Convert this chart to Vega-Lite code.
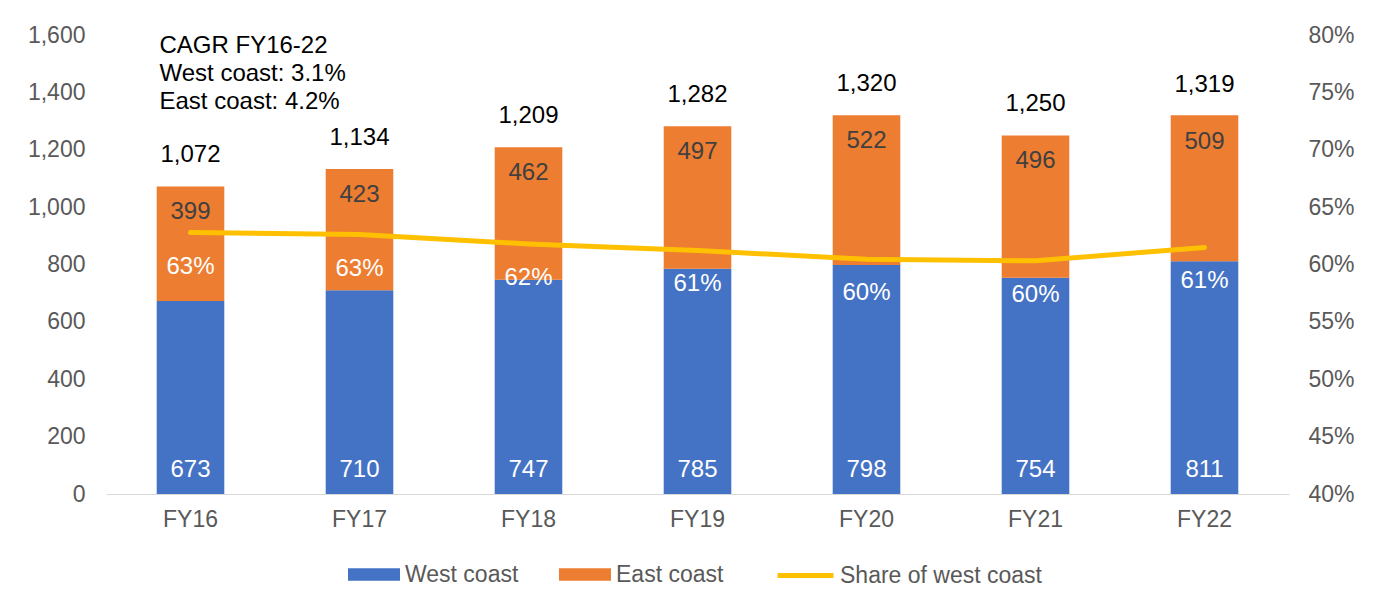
{
  "$schema": "https://vega.github.io/schema/vega-lite/v6.json",
  "width": 1183,
  "height": 459,
  "autosize": {"type": "none"},
  "padding": {"left": 106, "top": 35, "right": 94, "bottom": 116},
  "background": "white",
  "config": {
    "view": {"stroke": null},
    "font": "Liberation Sans",
    "text": {"font": "Liberation Sans"},
    "axis": {"labelFont": "Liberation Sans"},
    "legend": {"labelFont": "Liberation Sans"}
  },
  "datasets": {
    "sales": [
      {"fy": "FY16", "West coast": 673, "East coast": 399, "total": 1072, "share": 0.6278},
      {"fy": "FY17", "West coast": 710, "East coast": 423, "total": 1134, "share": 0.6261},
      {"fy": "FY18", "West coast": 747, "East coast": 462, "total": 1209, "share": 0.6179},
      {"fy": "FY19", "West coast": 785, "East coast": 497, "total": 1282, "share": 0.6123},
      {"fy": "FY20", "West coast": 798, "East coast": 522, "total": 1320, "share": 0.6045},
      {"fy": "FY21", "West coast": 754, "East coast": 496, "total": 1250, "share": 0.6032},
      {"fy": "FY22", "West coast": 811, "East coast": 509, "total": 1319, "share": 0.6149}
    ],
    "note": [
      {"text": "CAGR FY16-22\nWest coast: 3.1%\nEast coast: 4.2%"}
    ]
  },
  "data": {"name": "sales"},
  "encoding": {
    "x": {
      "field": "fy",
      "type": "nominal",
      "sort": null,
      "scale": {"paddingInner": 0.6, "paddingOuter": 0.3},
      "axis": {
        "title": null,
        "labelAngle": 0,
        "ticks": false,
        "domainColor": "#d9d9d9",
        "domainWidth": 1,
        "labelPadding": 14,
        "labelFontSize": 23,
        "labelColor": "#595959",
        "grid": false
      }
    }
  },
  "layer": [
    {
      "layer": [
        {
          "transform": [{"fold": ["West coast", "East coast"], "as": ["series", "value"]}],
          "mark": {"type": "bar"},
          "encoding": {
            "y": {
              "field": "value",
              "type": "quantitative",
              "stack": "zero",
              "scale": {"domain": [0, 1600], "nice": false},
              "axis": {"orient": "left", "title": null, "values": [0, 200, 400, 600, 800, 1000, 1200, 1400, 1600], "format": ",.0f", "domain": false, "ticks": false, "grid": false, "labelPadding": 21, "labelFontSize": 23, "labelColor": "#595959"}
            },
            "color": {
              "field": "series",
              "type": "nominal",
              "scale": {"domain": ["West coast", "East coast"], "range": ["#4472C4", "#ED7D31"]},
              "legend": {
                "title": null,
                "orient": "none",
                "direction": "horizontal",
                "legendX": 242,
                "legendY": 513.5,
                "symbolType": "M-1,-0.238H1V0.238H-1Z",
                "symbolSize": 2704,
                "symbolStrokeWidth": 0,
                "labelOffset": 5,
                "columnPadding": 40,
                "labelFontSize": 23,
                "labelLimit": 400,
                "labelColor": "#595959"
              }
            },
            "order": {"field": "series", "sort": "descending"}
          }
        },
        {
          "mark": {"type": "text", "baseline": "middle", "dy": -24, "color": "white", "fontSize": 24},
          "encoding": {
            "y": {"datum": 0, "type": "quantitative", "axis": {"orient": "left", "title": null, "values": [0, 200, 400, 600, 800, 1000, 1200, 1400, 1600], "format": ",.0f", "domain": false, "ticks": false, "grid": false, "labelPadding": 21, "labelFontSize": 23, "labelColor": "#595959"}},
            "text": {"field": "West coast", "type": "quantitative", "format": ",.0f"}
          }
        },
        {
          "mark": {"type": "text", "baseline": "middle", "dy": 26, "color": "#404040", "fontSize": 24},
          "encoding": {
            "y": {"field": "total", "type": "quantitative", "axis": {"orient": "left", "title": null, "values": [0, 200, 400, 600, 800, 1000, 1200, 1400, 1600], "format": ",.0f", "domain": false, "ticks": false, "grid": false, "labelPadding": 21, "labelFontSize": 23, "labelColor": "#595959"}},
            "text": {"field": "East coast", "type": "quantitative", "format": ",.0f"}
          }
        },
        {
          "mark": {"type": "text", "baseline": "middle", "dy": -31, "color": "#000000", "fontSize": 24},
          "encoding": {
            "y": {"field": "total", "type": "quantitative", "axis": {"orient": "left", "title": null, "values": [0, 200, 400, 600, 800, 1000, 1200, 1400, 1600], "format": ",.0f", "domain": false, "ticks": false, "grid": false, "labelPadding": 21, "labelFontSize": 23, "labelColor": "#595959"}},
            "text": {"field": "total", "type": "quantitative", "format": ",.0f"}
          }
        },
        {
          "data": {"name": "note"},
          "mark": {"type": "text", "align": "left", "baseline": "top", "dx": -31, "dy": -1, "lineBreak": "\n", "lineHeight": 28, "fontSize": 24, "color": "#000000"},
          "encoding": {
            "x": {"datum": "FY16", "type": "nominal"},
            "y": {"datum": 1600, "type": "quantitative", "axis": {"orient": "left", "title": null, "values": [0, 200, 400, 600, 800, 1000, 1200, 1400, 1600], "format": ",.0f", "domain": false, "ticks": false, "grid": false, "labelPadding": 21, "labelFontSize": 23, "labelColor": "#595959"}},
            "text": {"field": "text", "type": "nominal"}
          }
        }
      ]
    },
    {
      "layer": [
        {
          "mark": {"type": "line", "strokeWidth": 5, "strokeCap": "round", "strokeJoin": "round"},
          "encoding": {
            "y": {
              "field": "share",
              "type": "quantitative",
              "scale": {"domain": [0.4, 0.8], "nice": false, "zero": false},
              "axis": {"orient": "right", "title": null, "values": [0.4, 0.45, 0.5, 0.55, 0.6, 0.65, 0.7, 0.75, 0.8], "format": ".0%", "domain": false, "ticks": false, "grid": false, "labelPadding": 19, "labelFontSize": 23, "labelColor": "#595959"}
            },
            "stroke": {
              "datum": "Share of west coast",
              "type": "nominal",
              "scale": {"range": ["#FFC000"]},
              "legend": {
                "title": null,
                "orient": "none",
                "direction": "horizontal",
                "legendX": 669,
                "legendY": 510,
                "symbolType": "stroke",
                "symbolSize": 3136,
                "symbolStrokeWidth": 5,
                "labelOffset": 4,
                "labelFontSize": 23,
                "labelLimit": 400,
                "labelColor": "#595959"
              }
            }
          }
        },
        {
          "mark": {"type": "text", "baseline": "middle", "dy": 34, "color": "white", "fontSize": 24},
          "encoding": {
            "y": {"field": "share", "type": "quantitative", "axis": {"orient": "right", "title": null, "values": [0.4, 0.45, 0.5, 0.55, 0.6, 0.65, 0.7, 0.75, 0.8], "format": ".0%", "domain": false, "ticks": false, "grid": false, "labelPadding": 19, "labelFontSize": 23, "labelColor": "#595959"}},
            "text": {"field": "share", "type": "quantitative", "format": ".0%"}
          }
        }
      ]
    }
  ],
  "resolve": {"scale": {"y": "independent"}}
}
